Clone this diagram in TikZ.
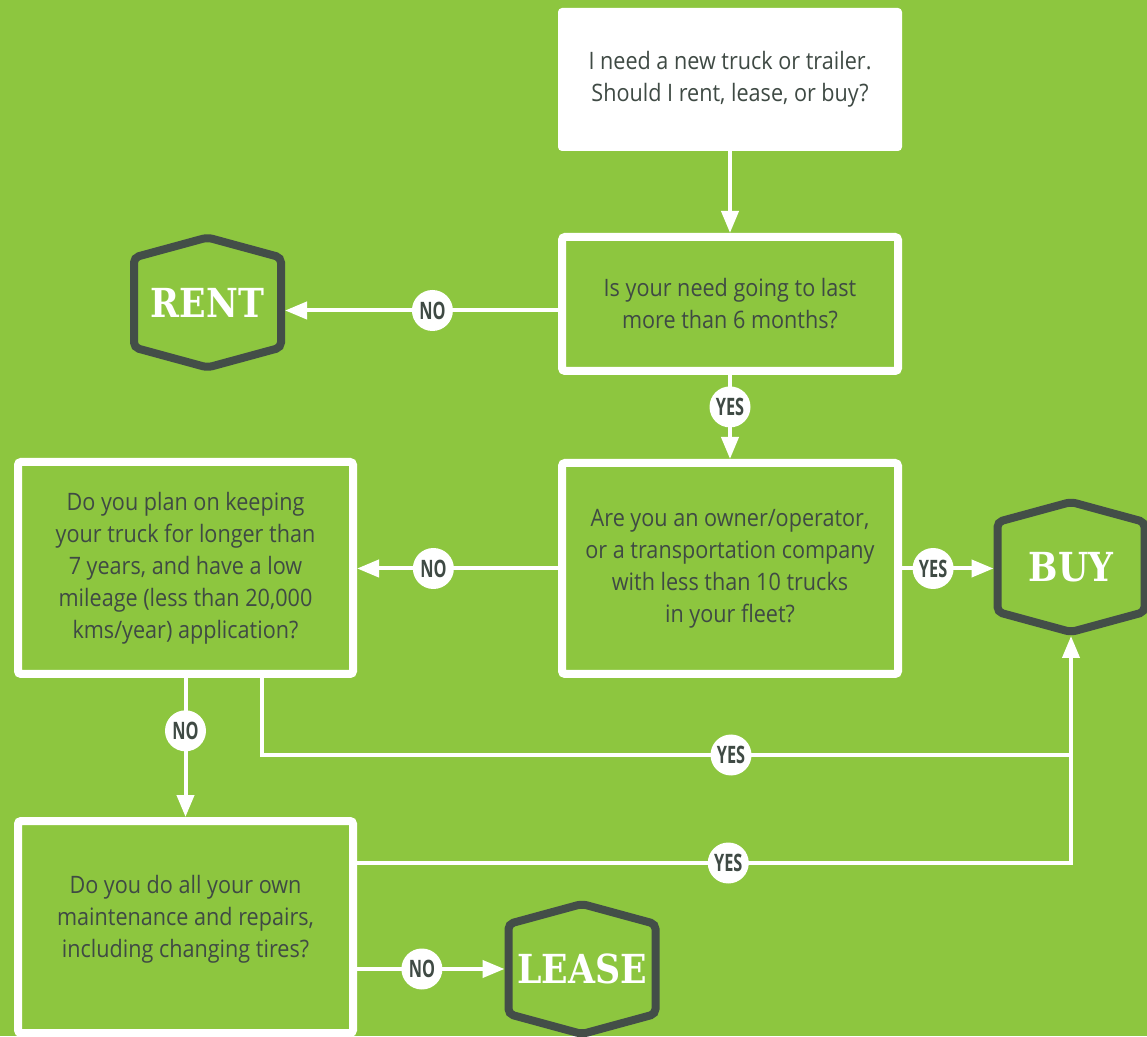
\documentclass[tikz,border=0pt]{standalone}
\usepackage{fontspec}
\setmainfont{Open Sans}[FakeStretch=0.9]
\newfontfamily\labfont{Open Sans}[FakeStretch=0.68]
\newfontfamily\hexfont{DejaVu Serif}[FakeStretch=0.87]
\usetikzlibrary{arrows.meta}

\definecolor{leaf}{HTML}{8DC63F}
\definecolor{slate}{HTML}{3F4A44}
\definecolor{hexgray}{HTML}{434E48}

\tikzset{
  qbox/.style={draw=white, line width=8pt, rounded corners=3pt, inner sep=0pt,
    text=slate, align=center, font=\fontsize{24}{32}\selectfont},
  startbox/.style={fill=white, rounded corners=4pt, inner sep=0pt,
    minimum width=344pt, minimum height=143pt,
    text=slate, align=center, font=\fontsize{24}{32}\selectfont},
  hexnode/.style={minimum width=155pt, minimum height=138pt, inner sep=0pt,
    outer sep=0pt, text=white, font=\hexfont\bfseries\fontsize{40}{40}\selectfont},
  hexline/.style={draw=hexgray, line width=8pt, rounded corners=5pt},
  arr/.style={draw=white, line width=4pt, -{Triangle[length=22pt,width=17pt]}},
  plain/.style={draw=white, line width=4pt},
  lab/.style={circle, fill=white, minimum size=41pt, inner sep=0pt,
    text=slate, font=\labfont\bfseries\fontsize{24}{24}\selectfont}
}

% outline of a hexagon round a hexnode
\newcommand{\hexoutline}[1]{%
  \draw[hexline] (#1.center) ++(73.5,0) -- ++(0,45) -- ++(-73.5,20) -- ++(-73.5,-20)
    -- ++(0,-90) -- ++(73.5,-20) -- ++(73.5,20) -- cycle;}

\begin{document}
\begin{tikzpicture}[x=1pt,y=1pt]
\useasboundingbox (0,0) rectangle (1147,1036);
\fill[leaf] (0,0) rectangle (1147,1036);

% questions
\node[startbox] (start) at (730,956.5) {I need a new truck or trailer.\\Should I rent, lease, or buy?};
\node[qbox, minimum width=336pt, minimum height=134pt] (last) at (730,732)
  {Is your need going to last\\more than 6 months?};
\node[qbox, minimum width=336pt, minimum height=211pt] (owner) at (730,467.5)
  {Are you an owner/operator,\\or a transportation company\\with less than 10 trucks\\in your fleet?};
\node[qbox, minimum width=335pt, minimum height=212pt] (keep) at (185.5,468)
  {Do you plan on keeping\\your truck for longer than\\7 years, and have a low\\mileage (less than 20,000\\kms/year) application?};
\node[qbox, minimum width=335pt, minimum height=212pt] (repair) at (185.5,109)
  {\raisebox{0pt}[\height][\dimexpr\depth+16pt\relax]{\begin{tabular}{@{}c@{}}Do you do all your own\\maintenance and repairs,\\including changing tires?\end{tabular}}};

% answers
\node[hexnode] (rent) at (207.5,733.5) {RENT};
\node[hexnode] (buy) at (1071,469) {BUY};
\node[hexnode] (lease) at (582,67) {LEASE};
\hexoutline{rent}
\hexoutline{buy}
\hexoutline{lease}

% connectors
\draw[arr] (start) -- (last);
\draw[arr] ([yshift=-8pt]rent.east -| last.west) -- node[lab, pos=0.46] (no1) {NO} ([yshift=-8pt]rent.east);
\draw[arr] (last) -- node[lab, pos=0.38] (yes1) {YES} (owner);
\draw[arr] (owner.west) -- node[lab, pos=0.62] (no2) {NO} (owner.west -| keep.east);
\draw[arr] (owner.east) -- node[lab, pos=0.34] (yes2) {YES} (owner.east -| buy.west);
\draw[arr] (keep) -- node[lab, pos=0.38] (no3) {NO} (repair);
\draw[arr] ([xshift=76pt]keep.south) -- ++(0,-77) coordinate (bend)
  -| node[lab, pos=0.29] (yes3) {YES} (buy.south);
\draw[plain] ([yshift=64pt]repair.east) -| node[lab, pos=0.26] (yes4) {YES} (bend -| buy.south);
\draw[arr] (repair.east |- lease.west) -- node[lab, pos=0.44] (no4) {NO} (lease.west);
\end{tikzpicture}
\end{document}
